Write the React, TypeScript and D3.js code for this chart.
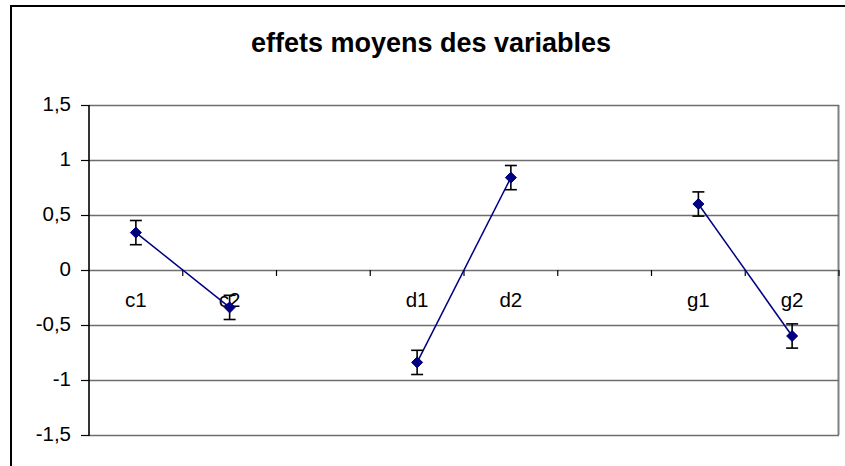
import React from "react";
import * as d3 from "d3";

const categories = ["c1", "c2", "", "d1", "d2", "", "g1", "g2"];
const slotKeys = ["s1", "s2", "s3", "s4", "s5", "s6", "s7", "s8"];
const pointLabels = ["c1", "c2", "d1", "d2", "g1", "g2"];
const pointSlots = ["s1", "s2", "s4", "s5", "s7", "s8"];
const values = [0.34, -0.34, -0.84, 0.84, 0.6, -0.6];
const errors = [0.11, 0.11, 0.11, 0.11, 0.11, 0.11];
const pairs = [[0, 1], [2, 3], [4, 5]];
const yTicks = [-1.5, -1, -0.5, 0, 0.5, 1, 1.5];
const title = "effets moyens des variables";

const W = 845;
const H = 466;
const FONT = "'Liberation Sans', Arial, sans-serif";

export default function App() {
  const x = d3.scaleBand<string>().domain(slotKeys).range([89, 839]).padding(0);
  const y = d3.scaleLinear().domain([-1.5, 1.5]).range([435, 105]);
  const cx = (k: string) => (x(k) as number) + x.bandwidth() / 2;
  const fmt = (v: number) => String(v).replace(".", ",");
  const line = d3
    .line<number>()
    .x((i) => cx(pointSlots[i]))
    .y((i) => y(values[i]));
  const diamond = (px: number, py: number) =>
    `M${px},${py - 5.5}L${px + 5.5},${py}L${px},${py + 5.5}L${px - 5.5},${py}Z`;
  const boundaries = slotKeys.map((k) => (x(k) as number) + x.bandwidth());

  return (
    <svg
      width={W}
      height={H}
      style={{ position: "absolute", left: 0, top: 0, display: "block", background: "#fff" }}
    >
      <rect x={0} y={0} width={W} height={H} fill="#fff" />
      {/* outer chart border (clipped at right and bottom) */}
      <path d={`M11,${H + 5}L11,6L${W + 5},6`} fill="none" stroke="#000" strokeWidth={2} />
      <text x={431} y={52} textAnchor="middle" fontFamily={FONT} fontWeight="bold" fontSize={27} fill="#000">
        {title}
      </text>
      {/* plot area right border */}
      <line x1={838.5} x2={838.5} y1={105} y2={435} stroke="#808080" strokeWidth={2} />
      {/* gridlines */}
      {yTicks.map((t) => (
        <line key={t} x1={89} x2={839} y1={y(t) + 0.5} y2={y(t) + 0.5} stroke="#6e6e6e" strokeWidth={1.5} />
      ))}
      {/* y axis */}
      <line x1={89} x2={89} y1={105} y2={436} stroke="#000" strokeWidth={1.6} />
      {yTicks.map((t) => (
        <g key={"yt" + t}>
          <line x1={81} x2={89} y1={y(t) + 0.5} y2={y(t) + 0.5} stroke="#000" strokeWidth={1.2} />
          <text x={71} y={y(t) + 6} textAnchor="end" fontFamily={FONT} fontSize={20.5} fill="#000">
            {fmt(t)}
          </text>
        </g>
      ))}
      {/* x axis ticks on zero line */}
      {boundaries.map((b, i) => (
        <line key={"xt" + i} x1={b} x2={b} y1={y(0)} y2={y(0) + 6} stroke="#000" strokeWidth={1.2} />
      ))}
      {/* category labels */}
      {categories.map((c, i) =>
        c ? (
          <text key={"cl" + i} x={cx(slotKeys[i])} y={307} textAnchor="middle" fontFamily={FONT} fontSize={20.5} fill="#000">
            {c}
          </text>
        ) : null
      )}
      {/* connecting lines */}
      {pairs.map((p, i) => (
        <path key={"ln" + i} d={line(p) || ""} fill="none" stroke="#000080" strokeWidth={1.5} />
      ))}
      {/* error bars */}
      {values.map((v, i) => {
        const px = cx(pointSlots[i]);
        const y1 = y(v + errors[i]);
        const y2 = y(v - errors[i]);
        return (
          <g key={"eb" + i} stroke="#000" strokeWidth={1.6}>
            <line x1={px} x2={px} y1={y1} y2={y2} />
            <line x1={px - 6} x2={px + 6} y1={y1} y2={y1} />
            <line x1={px - 6} x2={px + 6} y1={y2} y2={y2} />
          </g>
        );
      })}
      {/* markers */}
      {values.map((v, i) => (
        <path key={"mk" + pointLabels[i]} d={diamond(cx(pointSlots[i]), y(v))} fill="#000080" stroke="#000080" strokeWidth={1} />
      ))}
    </svg>
  );
}
